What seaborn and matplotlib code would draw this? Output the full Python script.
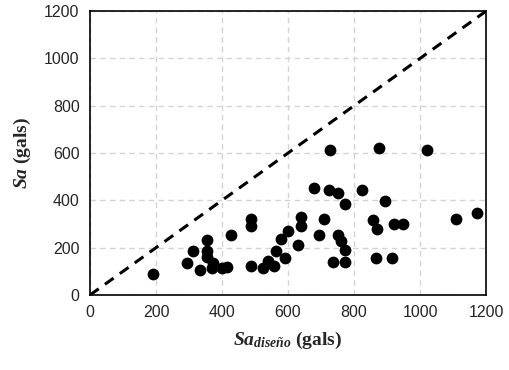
import matplotlib
matplotlib.use("Agg")
import matplotlib.pyplot as plt
import seaborn as sns
import pandas as pd

sa_diseno = [191, 295, 313, 332, 354, 354, 354, 374, 371, 399, 414, 427, 488, 488, 488,
             525, 538, 558, 563, 579, 591, 599, 631, 639, 639, 678, 693, 710, 726, 725,
             735, 751, 751, 760, 772, 772, 772, 824, 858, 869, 866, 875, 894, 922, 947,
             914, 1021, 1108, 1174]
sa = [89, 134, 187, 106, 232, 187, 159, 134, 115, 113, 117, 254, 323, 293, 123,
      115, 142, 123, 187, 235, 158, 272, 213, 330, 293, 454, 254, 321, 614, 442,
      139, 431, 255, 227, 386, 192, 139, 444, 318, 277, 158, 620, 397, 300, 300,
      158, 614, 323, 346]
ref_line = [0, 1200]
ticks = [0, 200, 400, 600, 800, 1000, 1200]

df = pd.DataFrame({"x": sa_diseno, "y": sa})

sns.set_theme(style="white")
plt.rcParams["font.family"] = ["Liberation Sans", "DejaVu Sans"]
plt.rcParams["mathtext.fontset"] = "custom"
plt.rcParams["mathtext.it"] = "Liberation Serif:italic:bold"
plt.rcParams["mathtext.rm"] = "Liberation Serif:bold"
plt.rcParams["mathtext.bf"] = "Liberation Serif:bold"

fig = plt.figure(figsize=(5.1, 3.7), dpi=100)
ax = fig.add_axes([0.1765, 0.2027, 0.953 - 0.1765, 0.970 - 0.2027])

ax.plot(ref_line, ref_line, color="black", lw=2.2, ls=(0, (3.5, 2.5)), zorder=2)
sns.scatterplot(data=df, x="x", y="y", ax=ax, color="black", s=72, edgecolor="black",
                linewidth=0, zorder=3, legend=False)

ax.set_xlim(0, 1200)
ax.set_ylim(0, 1200)
ax.set_xticks(ticks)
ax.set_yticks(ticks)
ax.set_xticklabels([str(t) for t in ticks], fontsize=11.5)
ax.set_yticklabels([str(t) for t in ticks], fontsize=11.5)
ax.tick_params(direction="inout", length=9, width=1.2, color="black", pad=3)
ax.grid(True, color="#d4d4d4", ls=(0, (4, 3)), lw=1)
ax.set_axisbelow(True)
for s in ax.spines.values():
    s.set_color("black")
    s.set_linewidth(1.2)

ax.set_xlabel(r"$Sa_{\mathit{diseño}}$ (gals)", fontsize=14, family="Liberation Serif",
              fontweight="bold", labelpad=7)
ax.set_ylabel(r"$Sa$ (gals)", fontsize=14, family="Liberation Serif",
              fontweight="bold", labelpad=8)

fig.savefig("out.png", dpi=100)
